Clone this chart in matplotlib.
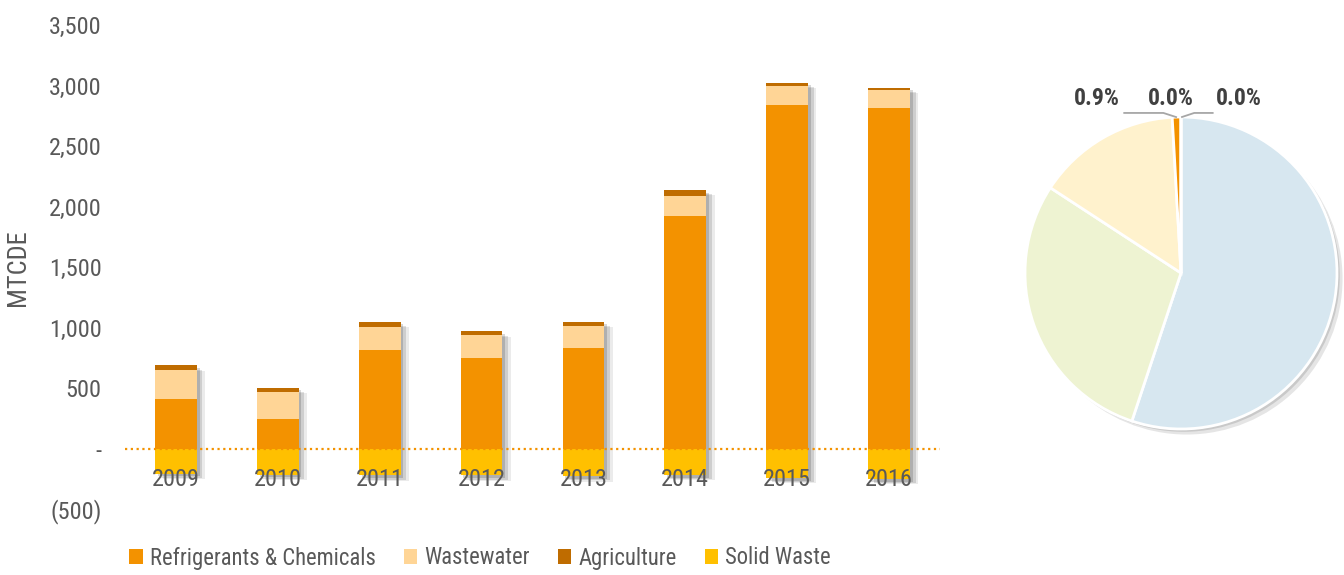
import numpy as np
import matplotlib
matplotlib.use('Agg')
import matplotlib.pyplot as plt
import matplotlib.patheffects as pe
from matplotlib.ticker import FuncFormatter
from matplotlib.patches import Patch, Circle

plt.rcParams['font.family'] = ['Roboto Condensed', 'DejaVu Sans']

# Emissions by year (MTCDE)
years = ['2009', '2010', '2011', '2012', '2013', '2014', '2015', '2016']
refrigerants = [413, 240, 810, 752, 834, 1925, 2836, 2811]
wastewater = [232, 231, 198, 182, 182, 163, 160, 152]
agriculture = [41, 33, 41, 33, 33, 49, 27, 19]
solid_waste = [-207, -215, -223, -223, -229, -217, -242, -250]

# Pie shares (%)
pie_values = [55.1, 29.1, 14.9, 0.9, 0.0, 0.0]
pie_colors = ['#D7E7F0', '#EEF3D2', '#FFF2CD', '#F39200', '#BF6C00', '#FFC000']

series_names = ['Refrigerants & Chemicals', 'Wastewater', 'Agriculture', 'Solid Waste']
series_colors = ['#F39200', '#FFD596', '#BF6C00', '#FFC000']

text_gray = '#595959'

fig = plt.figure(figsize=(13.44, 5.75), dpi=100)
ax = fig.add_axes([125 / 1344, 1 - 509 / 575, 815 / 1344, 484 / 575])

x = np.arange(len(years))
w = 0.41
ref = np.array(refrigerants)
ww = np.array(wastewater)
ag = np.array(agriculture)
sw = np.array(solid_waste)
top = ref + ww + ag

# soft shadow behind each full bar
shadow = [pe.SimplePatchShadow(offset=(6, -4), shadow_rgbFace='#000000', alpha=0.08),
          pe.SimplePatchShadow(offset=(4, -3), shadow_rgbFace='#000000', alpha=0.12),
          pe.SimplePatchShadow(offset=(2, -2), shadow_rgbFace='#000000', alpha=0.15)]
env = ax.bar(x, top - sw, w, bottom=sw, color='none', zorder=1)
for b in env:
    b.set_path_effects(shadow)

ax.bar(x, ref, w, color=series_colors[0], zorder=2)
ax.bar(x, ww, w, bottom=ref, color=series_colors[1], zorder=2)
ax.bar(x, ag, w, bottom=ref + ww, color=series_colors[2], zorder=2)
ax.bar(x, sw, w, color=series_colors[3], zorder=2)

ax.axhline(0, color='#F39200', lw=1.6, ls=(0, (1, 1.6)), zorder=3)

ax.set_xlim(-0.5, len(years) - 0.5)
ax.set_ylim(-500, 3500)
ax.set_yticks(np.arange(-500, 3501, 500))


def fmt(v, pos):
    if v == 0:
        return '-'
    if v < 0:
        return f'({abs(v):,.0f})'
    return f'{v:,.0f}'


ax.yaxis.set_major_formatter(FuncFormatter(fmt))
ax.set_xticks(x)
ax.set_xticklabels(years)
ax.set_axisbelow(False)
ax.spines['bottom'].set_position(('data', 0))
for s in ax.spines.values():
    s.set_visible(False)
ax.tick_params(axis='y', length=0, pad=17, labelsize=17.5, labelcolor=text_gray)
ax.tick_params(axis='x', length=0, pad=14, labelsize=17.5, labelcolor=text_gray)
ax.set_ylabel('MTCDE', fontsize=19, color=text_gray)
ax.yaxis.set_label_coords(-95 / 815, 0.498)

handles = [Patch(facecolor=c, edgecolor='none') for c in series_colors]
fig.legend(handles, series_names, loc='center', bbox_to_anchor=(480 / 1344, 1 - 558 / 575),
           ncol=4, frameon=False, fontsize=16.3, labelcolor=text_gray,
           handlelength=0.6, handleheight=0.6, handletextpad=0.3, columnspacing=1.25)

# pie
pax = fig.add_axes([1016 / 1344, 1 - 438 / 575, 330 / 1344, 330 / 575])
r = 156 / 165
pax.add_patch(Circle((0, 0), r, facecolor='none', edgecolor='none',
                     path_effects=[pe.SimplePatchShadow(offset=(4, -4), shadow_rgbFace='#000000', alpha=0.10),
                                   pe.SimplePatchShadow(offset=(2, -2), shadow_rgbFace='#000000', alpha=0.12)]))
wedges, _ = pax.pie(pie_values, colors=pie_colors, startangle=90, counterclock=False, radius=r,
                    wedgeprops=dict(edgecolor='white', linewidth=2))
pax.set_xlim(-1, 1)
pax.set_ylim(-1, 1)
pax.set_aspect('equal')
pax.axis('off')

# small-slice labels with leader lines
label_x = [-0.509, -0.061, 0.352]
small = [i for i, v in enumerate(pie_values) if v < 1]
for k, i in enumerate(small):
    wdg = wedges[i]
    ang = np.deg2rad((wdg.theta1 + wdg.theta2) / 2)
    ax_, ay_ = r * np.cos(ang), r * np.sin(ang)
    pax.text(label_x[k], 1.055, f'{pie_values[i]:.1f}%', ha='center', va='center',
             fontsize=17, color='#404040', fontweight='bold', clip_on=False)
    if k == 0:
        pax.plot([label_x[k] + 0.165, ax_ - 0.08, ax_ - 0.003], [0.97, 0.97, ay_],
                 color='#A6A6A6', lw=1.3, clip_on=False)
    elif k == 2:
        pax.plot([ax_ + 0.006, ax_ + 0.08, label_x[k] - 0.16], [ay_, 0.97, 0.97],
                 color='#A6A6A6', lw=1.3, clip_on=False)

fig.savefig('out.png', dpi=100)
